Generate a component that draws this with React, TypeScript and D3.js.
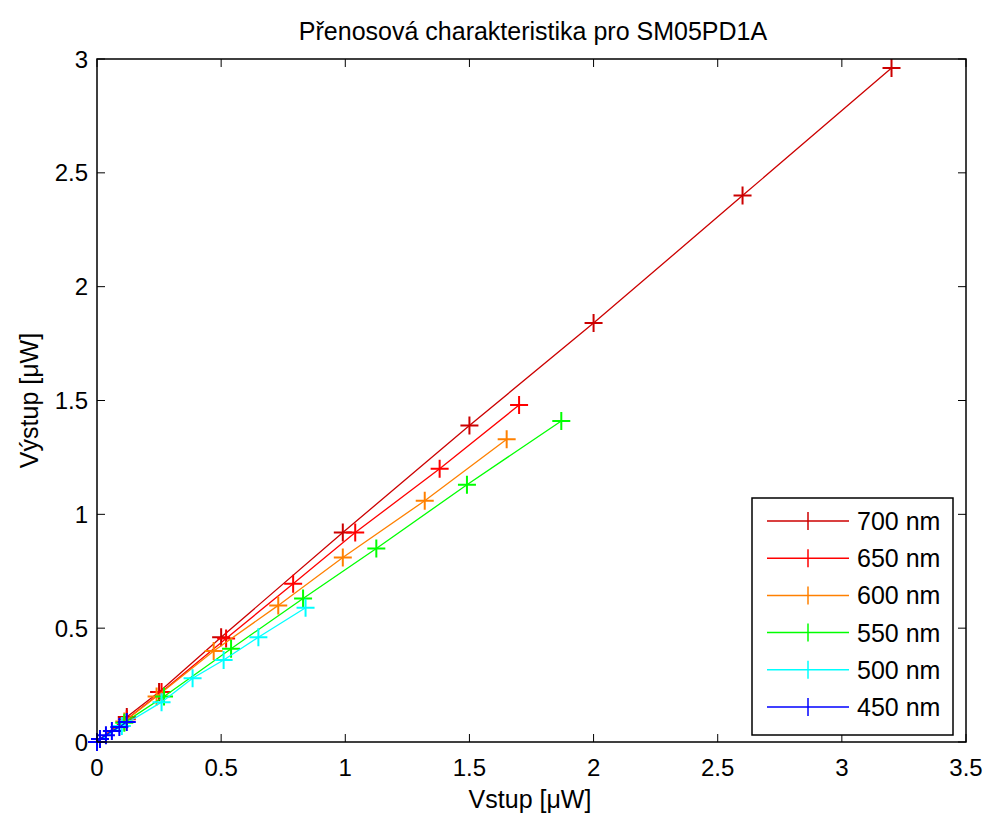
import { useEffect, useRef } from 'react';
import * as d3 from 'd3';

// series
const labels = ['700 nm', '650 nm', '600 nm', '550 nm', '500 nm', '450 nm'];
const colors = ['#cc0000', '#ff0000', '#ff8000', '#00ff00', '#00ffff', '#0000ff'];

const x700 = [0, 0.12, 0.25, 0.5, 0.99, 1.5, 2.0, 2.6, 3.2];
const y700 = [0, 0.11, 0.22, 0.46, 0.92, 1.39, 1.84, 2.4, 2.96];
const x650 = [0, 0.12, 0.26, 0.52, 0.79, 1.04, 1.38, 1.7];
const y650 = [0, 0.1, 0.22, 0.455, 0.695, 0.92, 1.2, 1.48];
const x600 = [0, 0.11, 0.24, 0.47, 0.73, 0.99, 1.32, 1.65];
const y600 = [0, 0.09, 0.2, 0.4, 0.6, 0.81, 1.06, 1.33];
const x550 = [0, 0.11, 0.27, 0.54, 0.83, 1.125, 1.49, 1.87];
const y550 = [0, 0.085, 0.2, 0.41, 0.63, 0.85, 1.13, 1.41];
const x500 = [0, 0.1, 0.26, 0.385, 0.51, 0.65, 0.84];
const y500 = [0, 0.07, 0.175, 0.28, 0.36, 0.46, 0.59];
const x450 = [0, 0.012, 0.036, 0.06, 0.09, 0.12];
const y450 = [0, 0.013, 0.03, 0.048, 0.066, 0.088];

const seriesX = [x700, x650, x600, x550, x500, x450];
const seriesY = [y700, y650, y600, y550, y500, y450];

const xTicks = [0, 0.5, 1, 1.5, 2, 2.5, 3, 3.5];
const yTicks = [0, 0.5, 1, 1.5, 2, 2.5, 3];

const FONT = '"Liberation Sans", Arial, sans-serif';

const App = () => {
  const svgRef = useRef<SVGSVGElement>(null);

  useEffect(() => {
    const svg = d3.select(svgRef.current);
    svg.selectAll('*').remove();

    const left = 97, right = 966, top = 59, bottom = 742;
    const x = d3.scaleLinear().domain([0, 3.5]).range([left, right]);
    const y = d3.scaleLinear().domain([0, 3]).range([bottom, top]);

    svg.append('rect').attr('width', 985).attr('height', 816).attr('fill', '#fff');

    // Title
    svg
      .append('text')
      .attr('x', 533)
      .attr('y', 40)
      .attr('text-anchor', 'middle')
      .style('font-family', FONT)
      .style('font-size', '25px')
      .text('Přenosová charakteristika pro SM05PD1A');

    // Ticks (inside, on all four sides)
    const tl = 8;
    const ticks = svg.append('g').attr('stroke', '#000').attr('stroke-width', 1);
    xTicks.forEach(t => {
      ticks.append('line').attr('x1', x(t)).attr('x2', x(t)).attr('y1', bottom).attr('y2', bottom - tl);
      ticks.append('line').attr('x1', x(t)).attr('x2', x(t)).attr('y1', top).attr('y2', top + tl);
    });
    yTicks.forEach(t => {
      ticks.append('line').attr('x1', left).attr('x2', left + tl).attr('y1', y(t)).attr('y2', y(t));
      ticks.append('line').attr('x1', right).attr('x2', right - tl).attr('y1', y(t)).attr('y2', y(t));
    });

    svg
      .append('g')
      .selectAll('text')
      .data(xTicks)
      .enter()
      .append('text')
      .attr('x', d => x(d))
      .attr('y', 776)
      .attr('text-anchor', 'middle')
      .style('font-family', FONT)
      .style('font-size', '24px')
      .text(d => String(d));

    svg
      .append('g')
      .selectAll('text')
      .data(yTicks)
      .enter()
      .append('text')
      .attr('x', 88)
      .attr('y', d => y(d))
      .attr('dy', '0.36em')
      .attr('text-anchor', 'end')
      .style('font-family', FONT)
      .style('font-size', '24px')
      .text(d => String(d));

    // Axis labels
    svg
      .append('text')
      .attr('x', 530)
      .attr('y', 808)
      .attr('text-anchor', 'middle')
      .style('font-family', FONT)
      .style('font-size', '25px')
      .text('Vstup [μW]');

    svg
      .append('text')
      .attr('transform', 'rotate(-90)')
      .attr('x', -(top + bottom) / 2)
      .attr('y', 38)
      .attr('text-anchor', 'middle')
      .style('font-family', FONT)
      .style('font-size', '25px')
      .text('Výstup [μW]');

    // Series
    const line = d3.line<number>();
    const ms = 9;
    seriesX.forEach((xs, i) => {
      const pts: [number, number][] = xs.map((v, j) => [x(v), y(seriesY[i][j])]);
      const g = svg.append('g');
      g.append('path')
        .attr('d', line(pts))
        .attr('fill', 'none')
        .attr('stroke', colors[i])
        .attr('stroke-width', 1.3);
      pts.forEach(([px, py]) => {
        g.append('path')
          .attr('d', `M${px - ms},${py}H${px + ms}M${px},${py - ms}V${py + ms}`)
          .attr('stroke', colors[i])
          .attr('stroke-width', 2);
      });
    });

    // Plot box
    svg
      .append('rect')
      .attr('x', left)
      .attr('y', top)
      .attr('width', right - left)
      .attr('height', bottom - top)
      .attr('fill', 'none')
      .attr('stroke', '#000')
      .attr('stroke-width', 1.5);

    // Legend
    const lg = svg.append('g');
    lg.append('rect')
      .attr('x', 752)
      .attr('y', 498)
      .attr('width', 201)
      .attr('height', 237)
      .attr('fill', '#fff')
      .attr('stroke', '#000')
      .attr('stroke-width', 1.5);
    labels.forEach((lab, i) => {
      const ly = 521 + i * 37.2;
      lg.append('line').attr('x1', 767).attr('x2', 849).attr('y1', ly).attr('y2', ly)
        .attr('stroke', colors[i]).attr('stroke-width', 1.5);
      lg.append('line').attr('x1', 808).attr('x2', 808).attr('y1', ly - 9).attr('y2', ly + 9)
        .attr('stroke', colors[i]).attr('stroke-width', 1.5);
      lg.append('text')
        .attr('x', 857)
        .attr('y', ly)
        .attr('dy', '0.36em')
        .style('font-family', FONT)
        .style('font-size', '25px')
        .text(lab);
    });
  }, []);

  return (
    <svg
      ref={svgRef}
      width={985}
      height={816}
      style={{ position: 'absolute', left: 0, top: 0 }}
    ></svg>
  );
};

export default App;
